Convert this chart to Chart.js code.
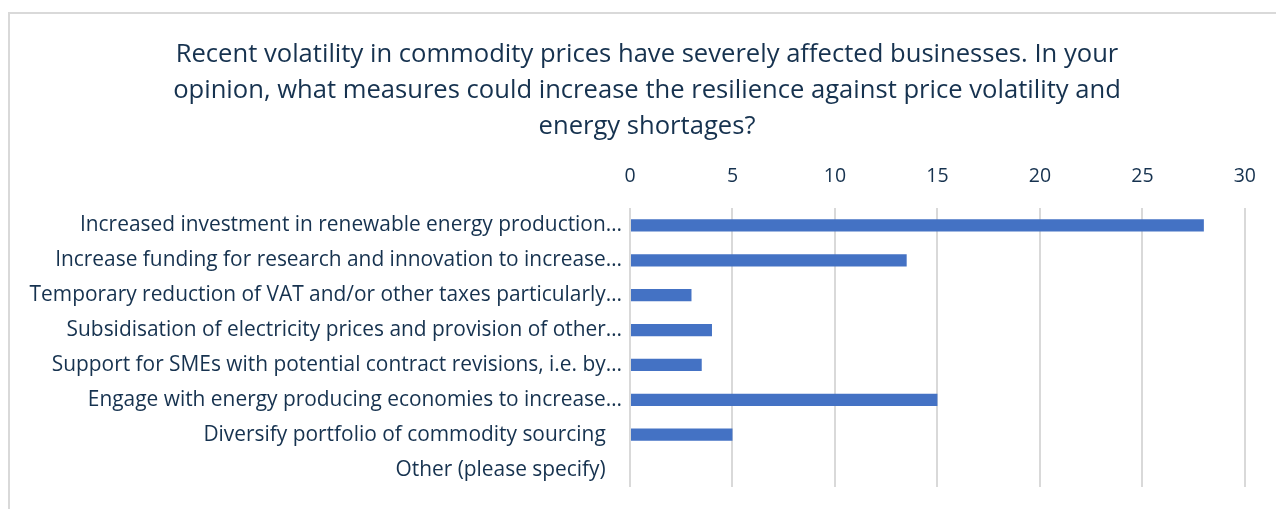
<!DOCTYPE html>
<html><head><meta charset="utf-8">
<script src="https://cdn.jsdelivr.net/npm/chart.js@4/dist/chart.umd.min.js"></script>
<style>
html,body{margin:0;padding:0;background:#fff;overflow:hidden}
#frame{position:absolute;left:8px;top:12px;width:1300px;height:600px;border:2px solid #d9d9d9;box-sizing:border-box}
#wrap{position:absolute;left:0;top:0;width:1276px;height:509px}
</style></head><body>
<div id="frame"></div>
<div id="wrap"><canvas id="c" width="1276" height="509"></canvas></div>
<script>
const titleLines = [
  "Recent volatility in commodity prices have severely affected businesses. In your",
  "opinion, what measures could increase the resilience against price volatility and",
  "energy shortages?"
];
const categories = [
  "Increased investment in renewable energy production…",
  "Increase funding for research and innovation to increase…",
  "Temporary reduction of VAT and/or other taxes particularly…",
  "Subsidisation of electricity prices and provision of other…",
  "Support for SMEs with potential contract revisions, i.e. by…",
  "Engage with energy producing economies to increase…",
  "Diversify portfolio of commodity sourcing\u00a0\u00a0\u00a0",
  "Other (please specify)\u00a0\u00a0\u00a0"
];
const values = [28, 13.5, 3, 4, 3.5, 15, 5, 0];
const xTicks = [0, 5, 10, 15, 20, 25, 30];

const textColor = "#16324f";
const fontFamily = "'Open Sans', 'Liberation Sans', sans-serif";

// Centre the title on the outer frame rather than the canvas box
const shiftTitle = {
  id: 'shiftTitle',
  afterLayout(chart) {
    if (chart.titleBlock) { chart.titleBlock.left = 49; }
  }
};

new Chart(document.getElementById('c'), {
  type: 'bar',
  data: {
    labels: categories,
    datasets: [{
      data: values,
      backgroundColor: '#4472c4',
      borderWidth: 0,
      categoryPercentage: 0.7,
      barPercentage: 0.5
    }]
  },
  plugins: [shiftTitle],
  options: {
    indexAxis: 'y',
    responsive: false,
    animation: false,
    devicePixelRatio: 1,
    layout: { padding: { top: 37, bottom: 22, left: 0, right: 31 } },
    plugins: {
      legend: { display: false },
      tooltip: { enabled: false },
      title: {
        display: true,
        text: titleLines,
        color: textColor,
        font: { family: fontFamily, size: 25.6, weight: 'normal', lineHeight: '36px' },
        padding: { top: 0, bottom: 7 }
      }
    },
    scales: {
      x: {
        position: 'top',
        min: 0, max: 30,
        afterBuildTicks: (s) => { s.ticks = xTicks.map(v => ({ value: v })); },
        ticks: { color: textColor, font: { family: fontFamily, size: 19.5 }, padding: 20 },
        grid: { color: '#d9d9d9', lineWidth: 2, drawTicks: false },
        border: { display: false },
        afterFit: (s) => { s.height = 56; }
      },
      y: {
        ticks: { color: textColor, font: { family: fontFamily, size: 20.9 }, padding: 8, autoSkip: false },
        grid: { display: false, drawTicks: false },
        border: { display: false },
        afterFit: (s) => { s.width = 630; }
      }
    }
  }
});
</script>
</body></html>
